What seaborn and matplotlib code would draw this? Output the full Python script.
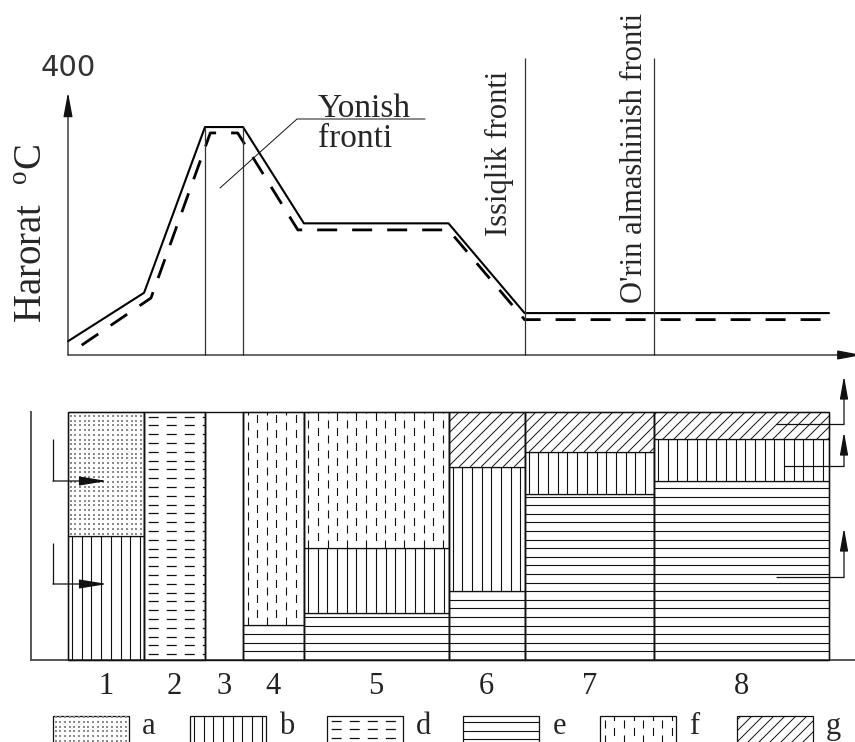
import numpy as np
import pandas as pd
import matplotlib
matplotlib.use("Agg")
import matplotlib.pyplot as plt
import seaborn as sns

# zones along the bed (distance units, 0..100)
zone_labels = ["1", "2", "3", "4", "5", "6", "7", "8"]
zone_edges = [0, 10, 18, 23, 31, 50, 60, 77, 100]
column_top = 100

# temperature profiles, degC
solid_x = [0, 10, 18, 23, 31, 50, 60, 100]
solid_t = [21, 95, 348, 348, 201, 201, 64, 64]
dashed_x = [1.8, 10.9, 18.7, 22.3, 30.2, 50, 60, 100]
dashed_t = [15, 87, 339, 339, 191, 191, 54, 54]

# layer thickness in each zone (% of column), stacked bottom -> top
layer_e = [0, 0, 0, 14, 19, 28, 67, 72]
layer_b = [50, 0, 0, 0, 26, 50, 17, 17]
layer_d = [0, 100, 0, 0, 0, 0, 0, 0]
layer_f = [0, 0, 0, 86, 55, 0, 0, 0]
layer_a = [50, 0, 0, 0, 0, 0, 0, 0]
layer_g = [0, 0, 0, 0, 0, 22, 16, 11]
layer_order = ["e", "b", "d", "f", "a", "g"]
key_codes = ["a", "b", "d", "e", "f", "g"]

sns.set_theme(style="white")
plt.rcParams["font.family"] = ["Liberation Serif", "DejaVu Serif"]
plt.rcParams["mathtext.fontset"] = "custom"
plt.rcParams["mathtext.rm"] = "Liberation Serif"
plt.rcParams["lines.scale_dashes"] = False
INK = "#111111"

# pixel layout of the drawing
W, H = 855, 742
X0_PX, SX = 68, 7.61     # x pixel of distance 0, pixels per unit
T0_PY, ST = 355, 0.655   # y pixel of 0 degC, pixels per degC
H0_PY, SH = 660, 2.48    # y pixel of column bottom, pixels per %


def dx(px):
    return (px - X0_PX) / SX


def tt(py):
    return (T0_PY - py) / ST


def hh(py):
    return (H0_PY - py) / SH


fig = plt.figure(figsize=(W / 100, H / 100), dpi=100)


def axes_px(top, bottom):
    return fig.add_axes([0, 1 - bottom / H, 1, (bottom - top) / H])


ax_t = axes_px(0, 365)
ax_b = axes_px(365, 700)
ax_k = axes_px(700, 742)
xlim = (dx(0), dx(W))


def arrow(ax, pts, hl, hw):
    xs, ys = zip(*pts)
    if len(pts) > 2:
        ax.plot(xs[:-1], ys[:-1], color=INK, lw=0.9, zorder=5, solid_capstyle="butt")
    ax.annotate("", xy=pts[-1], xytext=pts[-2], annotation_clip=False,
                arrowprops=dict(arrowstyle=f"-|>,head_length={hl},head_width={hw}",
                                color=INK, lw=0.9, shrinkA=0, shrinkB=0,
                                mutation_scale=10), zorder=5)


def draw_layer(ax, x0, x1, y0, y1, code, sx, sy):
    rect = ax.bar(x0, y1 - y0, width=x1 - x0, bottom=y0, align="edge",
                  color="white", edgecolor=INK, linewidth=0.9, zorder=2)[0]
    w_px, h_px = (x1 - x0) * sx, (y1 - y0) * sy
    arts = []
    if code == "a":
        gx, gy = np.meshgrid(x0 + np.arange(2.5, w_px, 4.7) / sx,
                             y0 + np.arange(2.5, h_px, 4.7) / sy)
        arts.append(ax.scatter(gx.ravel(), gy.ravel(), s=1.0, marker="s",
                               color="#8a8a8a", linewidths=0, zorder=3))
    elif code == "b":
        arts.append(ax.vlines(x0 + np.arange(4, w_px, 9.7) / sx, y0, y1,
                              color=INK, lw=0.8, zorder=3))
    elif code == "e":
        arts.append(ax.hlines(y0 + np.arange(8.6, h_px - 2, 8.6) / sy, x0, x1,
                              color=INK, lw=0.8, zorder=3))
    elif code == "d":
        arts.append(ax.hlines(y1 - np.arange(4.5, h_px, 8.8) / sy, x0, x1,
                              color=INK, lw=0.9, linestyles=[(-3, (7.2, 5.8))], zorder=3))
    elif code == "f":
        xs = x0 + np.arange(4.5, w_px, 9.6) / sx
        arts.append(ax.vlines(xs[::2], y0, y1, color=INK, lw=0.8,
                              linestyles=[(0, (5.8, 5.0))], zorder=3))
        arts.append(ax.vlines(xs[1::2], y0, y1, color=INK, lw=0.8,
                              linestyles=[(5.4, (5.8, 5.0))], zorder=3))
    elif code == "g":
        step = 11
        u = np.arange(np.floor((x0 * sx - y1 * sy) / step) * step, x1 * sx - y0 * sy + step, step)
        xs = np.column_stack([(u + y0 * sy) / sx, (u + y1 * sy) / sx, np.full_like(u, np.nan)]).ravel()
        ys = np.tile([y0, y1, np.nan], len(u))
        arts += ax.plot(xs, ys, color=INK, lw=0.7, zorder=3)
    for art in arts:
        art.set_clip_path(rect)


# ---- temperature panel
curves = pd.DataFrame({
    "dist": solid_x + dashed_x,
    "temp": solid_t + dashed_t,
    "curve": ["solid"] * len(solid_x) + ["dashed"] * len(dashed_x),
})
sns.lineplot(data=curves, x="dist", y="temp", style="curve", size="curve",
             sizes={"solid": 1.5, "dashed": 2.0},
             dashes={"solid": "", "dashed": (14.4, 10.8)},
             color="black", estimator=None, sort=False, legend=False, ax=ax_t)
ax_t.set_xlim(xlim)
ax_t.set_ylim(tt(365), tt(0))
ax_t.axis("off")

ax_t.vlines(zone_edges[2:4], 0, max(solid_t), color="#333333", lw=0.9)
ax_t.vlines([zone_edges[6], zone_edges[7]], 0, tt(58), color="#333333", lw=0.9)
arrow(ax_t, [(0, 0), (0, 401)], 1.5, 0.28)
arrow(ax_t, [(0, 0), (dx(862), 0)], 1.5, 0.28)

ax_t.text(dx(68.5), tt(68.5), "400", family="DejaVu Sans", fontsize=21,
          color="#333333", ha="center", va="center")
ax_t.text(dx(32.5), tt(234), "Harorat  $^{\\rm o}$C", rotation=90,
          ha="center", va="center", fontsize=28)
ax_t.text(dx(318), tt(117), "Yonish", fontsize=24, ha="left", va="baseline")
ax_t.text(dx(318), tt(147), "fronti", fontsize=24, ha="left", va="baseline")
ax_t.plot([dx(220), dx(297), dx(425)], [tt(188), tt(119), tt(119)], color=INK, lw=0.7)
ax_t.text(dx(499), tt(153.5), "Issiqlik fronti", rotation=90, fontsize=22,
          ha="center", va="center")
ax_t.text(dx(634.5), tt(158), "O'rin almashinish fronti", rotation=90, fontsize=22,
          ha="center", va="center")

# ---- layer columns
layers = {"e": layer_e, "b": layer_b, "d": layer_d, "f": layer_f, "a": layer_a, "g": layer_g}
for i in range(len(zone_labels)):
    x0, x1 = zone_edges[i], zone_edges[i + 1]
    bottom = 0
    for code in layer_order:
        h = layers[code][i]
        if h:
            draw_layer(ax_b, x0, x1, bottom, bottom + h, code, SX, SH)
            bottom += h
    ax_b.bar(x0, column_top, width=x1 - x0, align="edge", fill=False,
             edgecolor=INK, linewidth=1.0, zorder=4)

ax_b.set_xlim(xlim)
ax_b.set_ylim(hh(700), hh(365))
for s in ["top", "right"]:
    ax_b.spines[s].set_visible(False)
ax_b.spines["left"].set_position(("data", dx(31)))
ax_b.spines["left"].set_bounds(0, column_top)
ax_b.spines["bottom"].set_position(("data", 0))
ax_b.spines["bottom"].set_bounds(dx(31), xlim[1])
for s in ["left", "bottom"]:
    ax_b.spines[s].set_color("#555555")
    ax_b.spines[s].set_linewidth(1.4)
centers = [(a + b) / 2 for a, b in zip(zone_edges[:-1], zone_edges[1:])]
ax_b.set_xticks(centers, labels=zone_labels)
ax_b.set_yticks([])
ax_b.tick_params(axis="x", length=0, pad=9, labelsize=22, labelcolor="#222222")

arrow(ax_b, [(dx(53), hh(439)), (dx(53), hh(481)), (dx(107), hh(481))], 1.7, 0.28)
arrow(ax_b, [(dx(53), hh(543)), (dx(53), hh(584)), (dx(107), hh(584))], 1.7, 0.28)
arrow(ax_b, [(dx(776), hh(424)), (dx(844), hh(424)), (dx(844), hh(376))], 1.4, 0.25)
arrow(ax_b, [(dx(784), hh(466)), (dx(844), hh(466)), (dx(844), hh(432))], 1.4, 0.25)
arrow(ax_b, [(dx(776), hh(577)), (dx(844), hh(577)), (dx(844), hh(528))], 1.4, 0.25)

# ---- key
ax_k.set_xlim(0, W)
ax_k.set_ylim(0, 42)
ax_k.axis("off")
for i, code in enumerate(key_codes):
    left = 53 + i * 136.8
    draw_layer(ax_k, left, left + 76, -6, 26, code, 1, 1)
    ax_k.text(left + 89, 8, code, fontsize=22, ha="left", va="baseline")

fig.savefig("out.png", dpi=100)
